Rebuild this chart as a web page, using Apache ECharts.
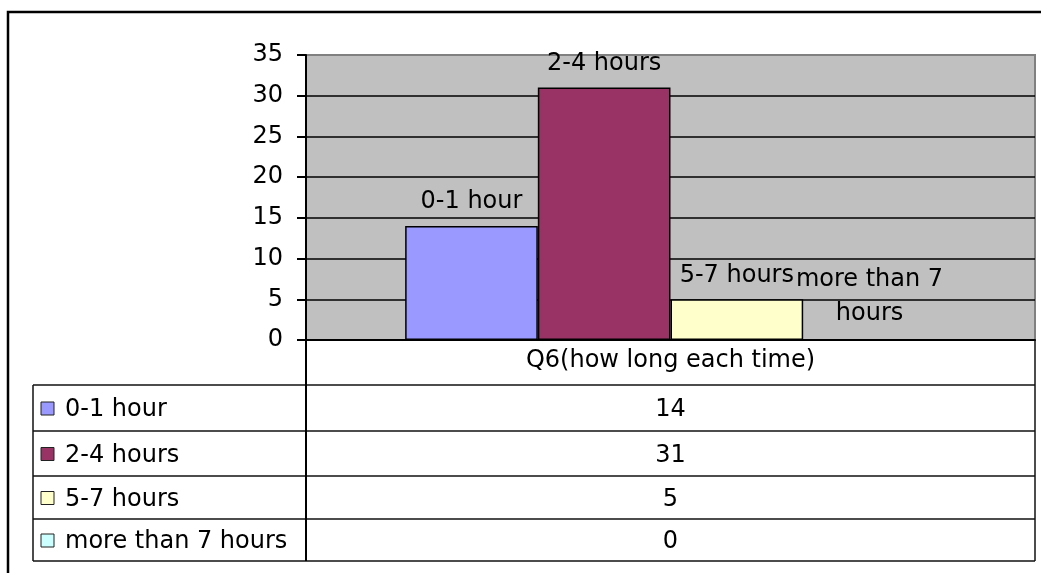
<!DOCTYPE html>
<html>
<head>
<meta charset="utf-8">
<script src="https://cdn.jsdelivr.net/npm/echarts@6/dist/echarts.min.js"></script>
<style>
  html, body { margin: 0; padding: 0; background: #fff; }
  #chart { width: 1041px; height: 573px; }
</style>
</head>
<body>
<div id="chart"></div>
<script>
// Survey question and answer groups
const question = 'Q6(how long each time)';
const seriesNames = ['0-1 hour', '2-4 hours', '5-7 hours', 'more than 7 hours'];
const seriesValues = [14, 31, 5, 0];
const seriesColors = ['#9999FF', '#993366', '#FFFFCC', '#CCFFFF'];
// Text shown above each bar (last one wraps onto two lines)
const barLabels = ['0-1 hour', '2-4 hours', '5-7 hours', 'more than 7\nhours'];
// Value axis
const yMin = 0, yMax = 35, yStep = 5;

const FONT = 'DejaVu Sans';
const FS = 24;

// Plot and data-table layout (pixels)
const plot = { left: 306, right: 1035, top: 55, bottom: 340 };
const tableLeft = 33;
const headerBottom = 385;
const rowLines = [385, 431, 476, 519, 561];
const LINE = '#111';

const chart = echarts.init(document.getElementById('chart'), null, { renderer: 'canvas' });

const colCenter = (plot.left + plot.right) / 2;
const graphics = [];

// outer chart frame
graphics.push({
  type: 'rect', silent: true, z: 100,
  shape: { x: 8, y: 12, width: 1200, height: 800 },
  style: { fill: 'none', stroke: '#000', lineWidth: 2.5 }
});

// data table grid lines
rowLines.forEach(y => {
  graphics.push({
    type: 'line', silent: true, z: 100,
    shape: { x1: tableLeft, y1: y, x2: plot.right, y2: y },
    style: { stroke: LINE, lineWidth: 1.5 }
  });
});
graphics.push({
  type: 'line', silent: true, z: 100,
  shape: { x1: plot.left, y1: plot.bottom, x2: plot.left, y2: rowLines[rowLines.length - 1] },
  style: { stroke: '#000', lineWidth: 2 }
});
graphics.push({
  type: 'line', silent: true, z: 100,
  shape: { x1: plot.right, y1: plot.bottom, x2: plot.right, y2: rowLines[rowLines.length - 1] },
  style: { stroke: LINE, lineWidth: 1.5 }
});
graphics.push({
  type: 'line', silent: true, z: 100,
  shape: { x1: tableLeft, y1: rowLines[0], x2: tableLeft, y2: rowLines[rowLines.length - 1] },
  style: { stroke: LINE, lineWidth: 1.5 }
});

// header cell: category name
graphics.push({
  type: 'text', silent: true, z: 100,
  style: {
    text: question, x: colCenter, y: (plot.bottom + headerBottom) / 2 - 2,
    align: 'center', verticalAlign: 'middle',
    textAlign: 'center', textVerticalAlign: 'middle',
    fontFamily: FONT, fontSize: FS, fill: '#000'
  }
});

// one row per series: legend key, name, value
seriesNames.forEach((name, i) => {
  const cy = (rowLines[i] + rowLines[i + 1]) / 2;
  graphics.push({
    type: 'rect', silent: true, z: 100,
    shape: { x: 41, y: cy - 6, width: 13, height: 13 },
    style: { fill: seriesColors[i], stroke: '#222', lineWidth: 1 }
  });
  graphics.push({
    type: 'text', silent: true, z: 100,
    style: {
      text: name, x: 65, y: cy + 2,
      align: 'left', verticalAlign: 'middle',
      textAlign: 'left', textVerticalAlign: 'middle',
      fontFamily: FONT, fontSize: FS, fill: '#000'
    }
  });
  graphics.push({
    type: 'text', silent: true, z: 100,
    style: {
      text: String(seriesValues[i]), x: colCenter, y: cy + 2,
      align: 'center', verticalAlign: 'middle',
      textAlign: 'center', textVerticalAlign: 'middle',
      fontFamily: FONT, fontSize: FS, fill: '#000'
    }
  });
});

// split lines: black inside the plot, grey on the top edge
const splitColors = [];
for (let v = yMin; v <= yMax; v += yStep) splitColors.push(v === yMax ? '#808080' : '#000');

const option = {
  animation: false,
  backgroundColor: '#fff',
  grid: {
    left: plot.left, top: plot.top,
    width: plot.right - plot.left, height: plot.bottom - plot.top,
    show: true, backgroundColor: '#C0C0C0',
    borderColor: '#808080', borderWidth: 2
  },
  xAxis: {
    type: 'category',
    data: [question],
    axisLine: { show: true, lineStyle: { color: '#000', width: 2 } },
    axisTick: { show: false },
    axisLabel: { show: false },
    splitLine: { show: false }
  },
  yAxis: {
    type: 'value',
    min: yMin, max: yMax, interval: yStep,
    axisLine: { show: true, lineStyle: { color: '#000', width: 2 } },
    axisTick: { show: true, length: 9, lineStyle: { color: '#000', width: 2 } },
    axisLabel: { color: '#000', fontFamily: FONT, fontSize: FS, margin: 23 },
    splitLine: { show: true, lineStyle: { color: splitColors, width: 1.5 } }
  },
  graphic: graphics,
  series: seriesNames.map((name, i) => ({
    type: 'bar',
    name: name,
    data: [seriesValues[i]],
    barWidth: '18.2%',
    barGap: '0%',
    itemStyle: { color: seriesColors[i], borderColor: '#000', borderWidth: 1.5 },
    label: {
      show: true,
      position: 'top',
      distance: i === 3 ? 8 : 12,
      formatter: () => barLabels[i],
      color: '#000',
      fontFamily: FONT,
      fontSize: FS,
      lineHeight: i === 3 ? 34 : FS
    }
  }))
};

chart.setOption(option);
</script>
</body>
</html>
